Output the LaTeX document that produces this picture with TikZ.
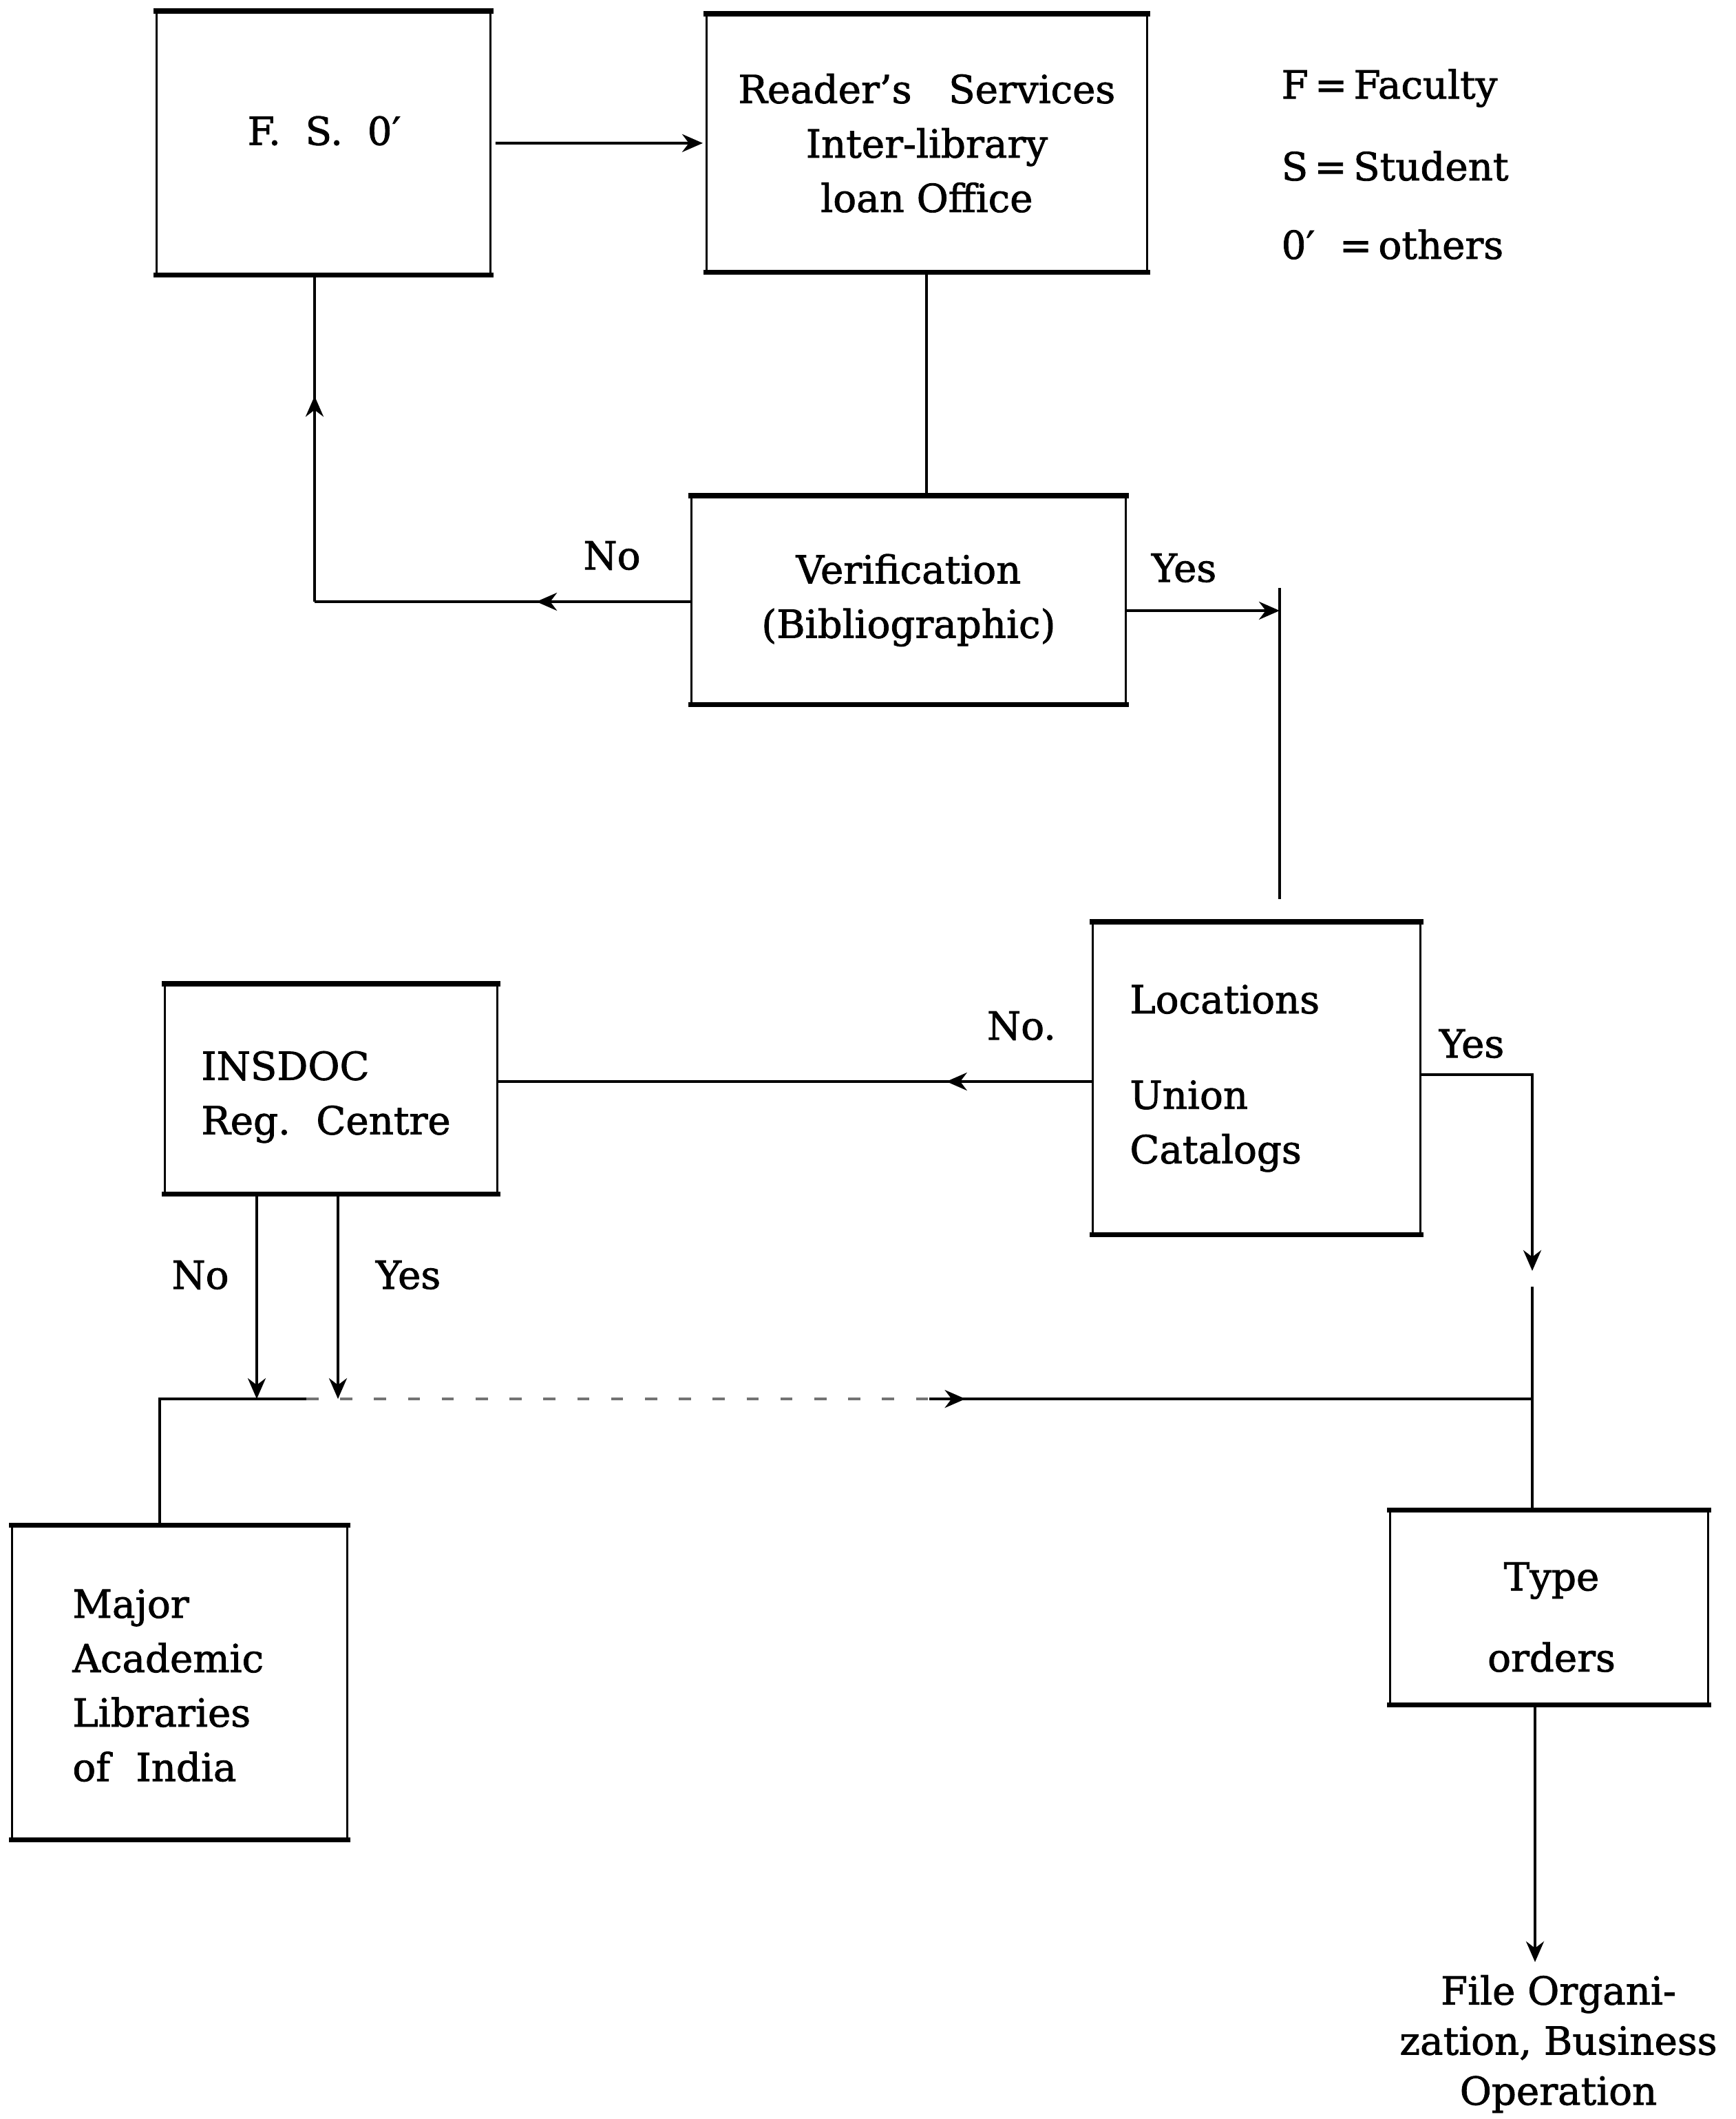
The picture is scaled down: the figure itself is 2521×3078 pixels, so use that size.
\documentclass[tikz,border=0pt]{standalone}
\usepackage{fontspec}
\setmainfont{DejaVu Serif}[FakeBold=1.5]
\usetikzlibrary{arrows.meta,decorations.markings,calc}
\newcommand\fs{\fontsize{16}{22.5}\selectfont}
\newcommand\tbedges[1]{\draw[edgeline] ([xshift=-0.3mm]#1.north west) -- ([xshift=0.3mm]#1.north east) ([xshift=-0.3mm]#1.south west) -- ([xshift=0.3mm]#1.south east);}
\begin{document}
\begin{tikzpicture}[x=0.1mm,y=-0.1mm,
  box/.style={draw, line width=0.8pt, inner sep=0pt, anchor=north west, font=\fs, align=center},
  lbox/.style={box, align=left},
  edgeline/.style={line width=2pt},
  conn/.style={line width=1.1pt},
  faint/.style={line width=1pt, black!55, dash pattern=on 5pt off 9pt},
  lbl/.style={font=\fs, inner sep=0pt},
  tip/.style={-{Stealth[length=3mm,width=2.6mm]}},
  midarrow/.style={postaction={decorate}, decoration={markings, mark=at position #1 with {\arrow{Stealth[length=3mm,width=2.6mm]}}}}
]
\fill[white] (0,0) rectangle (2521,3078);
\useasboundingbox (0,0) rectangle (2521,3078);

% boxes
\node[box, minimum width=48.5mm, minimum height=38.1mm] (FSO) at (226,16) {};
\node[lbl] (FSOt) at (471,190) {F.\ \ S.\ \ 0′};
\node[box, minimum width=64mm, minimum height=37.3mm] (RS) at (1025,20) {Reader’s\ \ \ Services\\Inter-library\\loan Office};
\node[box, minimum width=63.1mm, minimum height=30.1mm] (Ver) at (1003,720) {Verification\\(Bibliographic)};
\node[lbox, minimum width=47.6mm, minimum height=45.2mm, inner xsep=5.4mm, text width=36.8mm] (Loc) at (1586,1339) {Locations\\[17pt]Union\\Catalogs};
\node[lbox, minimum width=48.3mm, minimum height=30.3mm, inner xsep=5.3mm, text width=37.7mm] (INS) at (238,1429) {\rule{0pt}{6.5mm}INSDOC\\Reg.\ \ Centre};
\node[lbox, minimum width=48.7mm, minimum height=45.5mm, inner xsep=8.8mm, text width=31.1mm] (Maj) at (16,2215) {\rule{0pt}{5mm}Major\\Academic\\Libraries\\of\ \ India};
\node[box, minimum width=46.2mm, minimum height=28.1mm] (TO) at (2018,2193) {};
\node[lbl, align=center] (TOt) at (2254,2349) {Type\\[11pt]orders};
\node[lbl, align=center, font=\fontsize{16}{20.7}\selectfont] (File) at (2264,2969) {File Organi-\\zation, Business\\Operation};

\tbedges{FSO}\tbedges{RS}\tbedges{Ver}\tbedges{Loc}\tbedges{INS}\tbedges{Maj}\tbedges{TO}

% legend
\node[lbl, anchor=west] (legF) at (1861,128) {F\,=\,Faculty};
\node[lbl, anchor=west] (legS) at (1861,241) {S\,=\,Student};
\node[lbl, anchor=west] (legO) at (1861,355) {0′\ \ =\,others};

% labels
\node[lbl] (lno1) at (889,807) {No};
\node[lbl] (lyes1) at (1720,825) {Yes};
\node[lbl] (lno2) at (1484,1490) {No.};
\node[lbl] (lyes2) at (2138,1516) {Yes};
\node[lbl] (lno3) at (291,1852) {No};
\node[lbl] (lyes3) at (593,1852) {Yes};

% junction coordinates
\coordinate (j1) at (457,874);
\coordinate (j2) at (1859,887);
\coordinate (j2t) at (1859,854);
\coordinate (yb) at (0,1571);
\coordinate (j4) at (2226,1561);
\coordinate (j5) at (2226,1846);
\coordinate (j6) at (2226,1869);
\coordinate (n1) at (373,2032);
\coordinate (n2) at (491,2032);
\coordinate (h1) at (232,2032);
\coordinate (h1b) at (445,2032);
\coordinate (h2a) at (1350,2032);
\coordinate (h2) at (2226,2032);
\coordinate (f1) at (2230,2850);

% connectors
\draw[conn, tip, shorten <=0.6mm, shorten >=0.4mm] (FSO.east) -- (RS.west);
\draw[conn] (RS.south) -- (RS.south |- Ver.north);
\draw[conn, midarrow=0.41] (Ver.west |- j1) -- (j1);
\draw[conn, midarrow=0.63] (j1) -- (j1 |- FSO.south);
\draw[conn, tip] (Ver.east |- j2) -- (j2);
\draw[conn, shorten >=3.3mm] (j2t) -- (j2t |- Loc.north);
\draw[conn, midarrow=0.245] (Loc.west |- yb) -- (INS.east |- yb);
\draw[conn, tip] (Loc.east |- j4) -- (j4) -- (j5);
\draw[conn] (j6) -- (j6 |- TO.north);
\draw[conn, tip] (n1 |- INS.south) -- (n1);
\draw[conn, tip] (n2 |- INS.south) -- (n2);
\draw[conn] (h1 |- Maj.north) -- (h1) -- (h1b);
\draw[faint] (h1b) -- (h2a);
\draw[conn, midarrow=0.06] (h2a) -- (h2);
\draw[conn, tip] (f1 |- TO.south) -- (f1);
\end{tikzpicture}
\end{document}
